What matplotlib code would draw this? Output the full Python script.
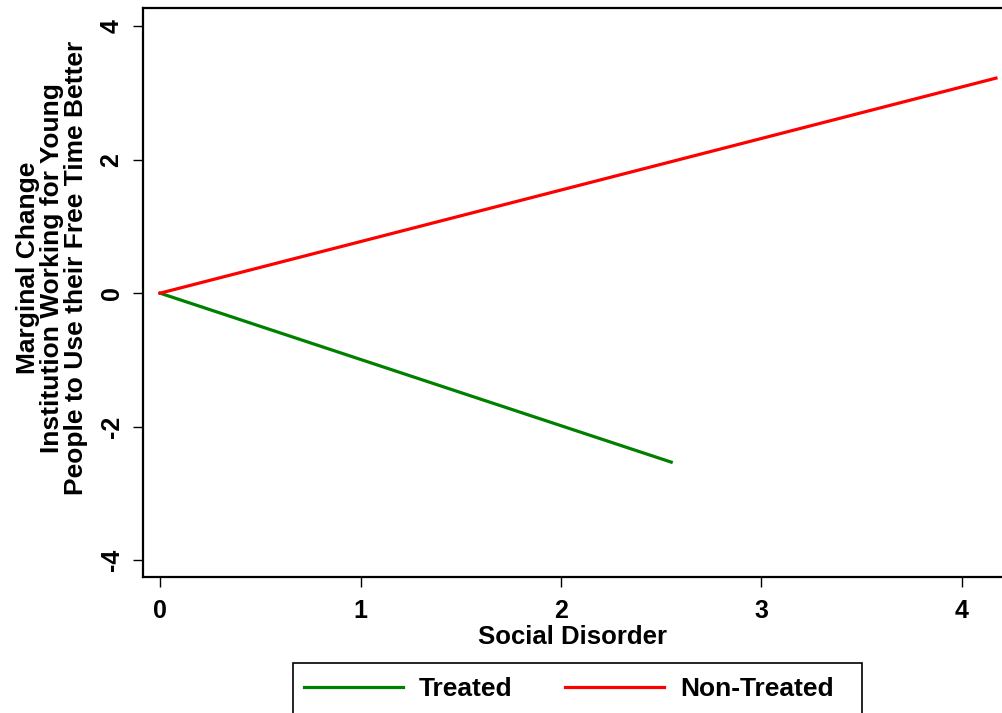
import matplotlib
matplotlib.use("Agg")
import matplotlib.pyplot as plt
from matplotlib.patches import Rectangle

# Marginal change lines (start and end points)
treated_x = [0.0, 2.55]
treated_y = [0.0, -2.53]
nontreated_x = [0.0, 4.17]
nontreated_y = [0.0, 3.22]

x_ticks = [0, 1, 2, 3, 4]
y_ticks = [-4, -2, 0, 2, 4]

GREEN = "#008000"
RED = "#ff0000"
INK = "#000000"
FS = 18

plt.rcParams["font.family"] = ["Liberation Sans", "DejaVu Sans"]
plt.rcParams["font.weight"] = "bold"

W, H = 1003, 713
fig = plt.figure(figsize=(W / 100, H / 100), dpi=100)
fig.patch.set_facecolor("white")

left, right, top, bottom = 143, 1003, 8, 577
ax = fig.add_axes([left / W, 1 - bottom / H, (right - left) / W, (bottom - top) / H])

ax.plot(treated_x, treated_y, color=GREEN, lw=2.3, label="Treated")
ax.plot(nontreated_x, nontreated_y, color=RED, lw=2.3, label="Non-Treated")

ax.set_xlim(-0.085, 4.205)
ax.set_ylim(-4.25, 4.27)
ax.set_xticks(x_ticks)
ax.set_yticks(y_ticks)
ax.set_yticklabels([str(v) for v in y_ticks], rotation=90, va="center")

ax.spines["right"].set_visible(False)
for side in ("left", "bottom", "top"):
    ax.spines[side].set_linewidth(1.6)
    ax.spines[side].set_color(INK)
ax.tick_params(direction="out", length=7, width=1, labelsize=FS, colors=INK)
ax.tick_params(axis="x", pad=9)
ax.tick_params(axis="y", pad=7)

ax.set_xlabel("Social Disorder", fontsize=FS + 0.5, fontweight="bold", labelpad=1)

fig.text(52 / W, 1 - 268 / H,
         "Marginal Change\nInstitution Working for Young\nPeople to Use their Free Time Better",
         rotation=90, ha="center", va="center", fontsize=19, fontweight="bold",
         multialignment="center", linespacing=1.0)

# legend box runs off the bottom of the image, as in the original
fig.patches.append(Rectangle((293 / W, -0.05), (862 - 293) / W, 0.05 + 1 - 663 / H,
                             transform=fig.transFigure, facecolor="white",
                             edgecolor=INK, linewidth=1.2, zorder=1))
leg = fig.legend(loc="center left", bbox_to_anchor=(304 / W, 1 - 689 / H), ncol=2,
                 fontsize=19, frameon=False, borderpad=0, borderaxespad=0,
                 handlelength=3.75, handletextpad=0.6, columnspacing=2.0)
leg.set_zorder(2)

fig.savefig("out.png", dpi=100, facecolor="white")
